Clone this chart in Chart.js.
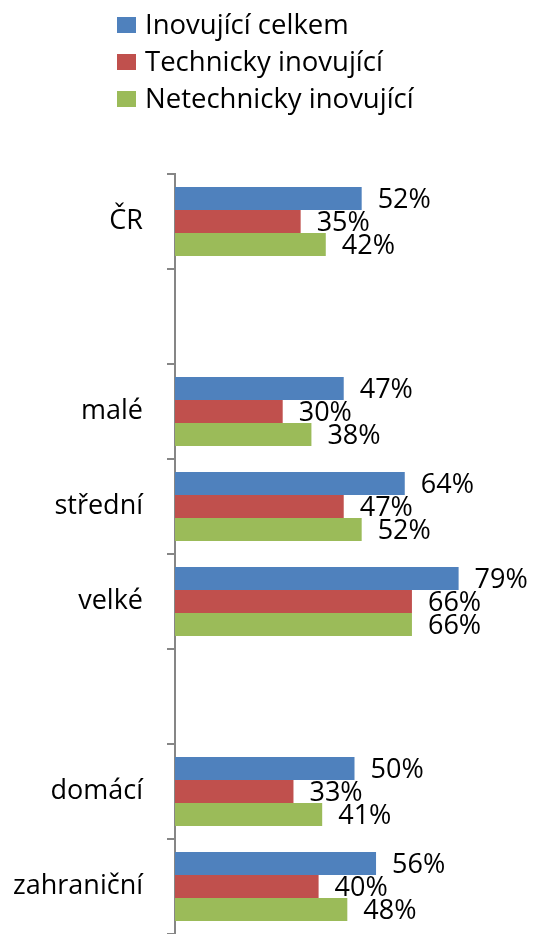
<!DOCTYPE html>
<html>
<head>
<meta charset="utf-8">
<script src="https://cdn.jsdelivr.net/npm/chart.js@4.4.1/dist/chart.umd.min.js"></script>
<style>
  html, body { margin: 0; padding: 0; background: #fff; }
  #wrap { width: 534px; height: 934px; position: relative; }
</style>
</head>
<body>
<div id="wrap"><canvas id="chart"></canvas></div>
<script>
// Chart data
const categories = ['ČR', '', 'malé', 'střední', 'velké', '', 'domácí', 'zahraniční'];
const seriesNames = ['Inovující celkem', 'Technicky inovující', 'Netechnicky inovující'];
const inovujiciCelkem = [52, null, 47, 64, 79, null, 50, 56];
const technickyInovujici = [35, null, 30, 47, 66, null, 33, 40];
const netechnickyInovujici = [42, null, 38, 52, 66, null, 41, 48];

const colors = ['#4F81BD', '#C0504D', '#9BBB59'];
const fontFamily = '"Open Sans", "DejaVu Sans", sans-serif';
const axisGray = '#868686';

// value labels next to bar ends
const valueLabels = {
    id: 'valueLabels',
    afterDatasetsDraw(chart) {
        const ctx = chart.ctx;
        ctx.save();
        ctx.font = '27px ' + fontFamily;
        ctx.fillStyle = '#000';
        ctx.textAlign = 'left';
        ctx.textBaseline = 'middle';
        chart.data.datasets.forEach((ds, i) => {
            chart.getDatasetMeta(i).data.forEach((bar, j) => {
                const v = ds.data[j];
                if (v === null || v === undefined) return;
                ctx.fillText(v + '%', bar.x + 16, bar.y + 2);
            });
        });
        ctx.restore();
    }
};

// vertical legend at the top
const stackedLegend = {
    id: 'stackedLegend',
    afterDraw(chart) {
        const ctx = chart.ctx;
        ctx.save();
        ctx.font = '27.5px ' + fontFamily;
        ctx.textBaseline = 'middle';
        chart.data.datasets.forEach((ds, i) => {
            const cy = 25 + i * 37;
            ctx.fillStyle = ds.backgroundColor;
            ctx.fillRect(117, cy - 8, 19, 16);
            ctx.fillStyle = '#000';
            ctx.fillText(ds.label, 145, cy + 1);
        });
        ctx.restore();
    }
};

new Chart(document.getElementById('chart'), {
    type: 'bar',
    data: {
        labels: categories,
        datasets: [
            { label: seriesNames[0], data: inovujiciCelkem, backgroundColor: colors[0] },
            { label: seriesNames[1], data: technickyInovujici, backgroundColor: colors[1] },
            { label: seriesNames[2], data: netechnickyInovujici, backgroundColor: colors[2] }
        ]
    },
    options: {
        indexAxis: 'y',
        responsive: true,
        maintainAspectRatio: false,
        animation: false,
        categoryPercentage: 0.726,
        barPercentage: 1.0,
        layout: { padding: { top: 174, right: 0, bottom: 0, left: 0 } },
        plugins: {
            legend: { display: false },
            tooltip: { enabled: false }
        },
        scales: {
            x: {
                display: false,
                min: 0,
                max: 100
            },
            y: {
                afterFit(scale) {
                    scale.width = 175;
                    scale.paddingTop = 0;
                    scale.paddingBottom = 0;
                },
                grid: {
                    offset: true,
                    drawOnChartArea: false,
                    color: axisGray,
                    lineWidth: 2,
                    tickLength: 8
                },
                border: { color: axisGray, width: 2 },
                ticks: {
                    padding: 24,
                    color: '#000',
                    font: { family: fontFamily, size: 27 }
                }
            }
        }
    },
    plugins: [valueLabels, stackedLegend]
});
</script>
</body>
</html>
